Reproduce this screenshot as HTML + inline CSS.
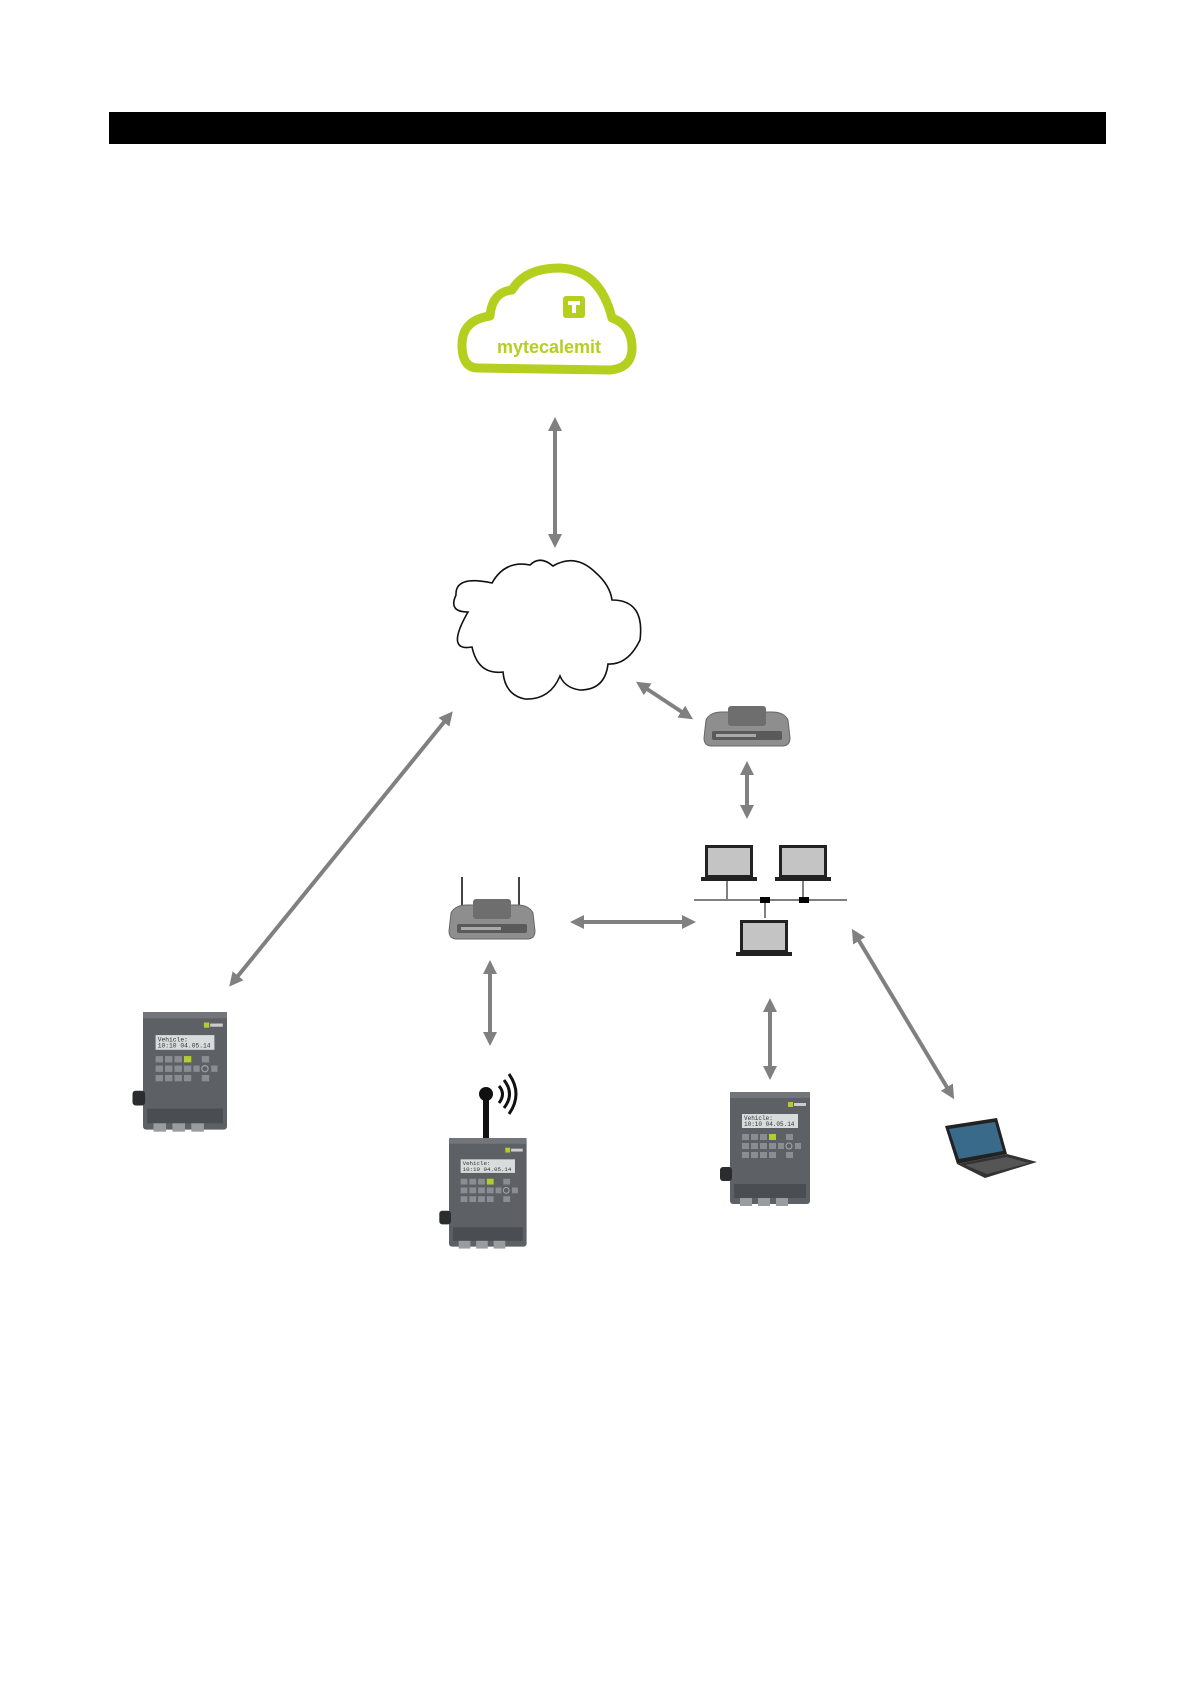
<!DOCTYPE html>
<html><head><meta charset="utf-8"><style>
html,body{margin:0;padding:0;background:#fff}
svg{display:block}
</style></head><body>
<svg width="1190" height="1684" viewBox="0 0 1190 1684" xmlns="http://www.w3.org/2000/svg">
<defs>
<marker id="ah" markerWidth="3.5" markerHeight="3.5" refX="2" refY="1.75" orient="auto-start-reverse" markerUnits="strokeWidth">
<path d="M0,0 L3.5,1.75 L0,3.5 Z" fill="#808080"/></marker>
<g id="dev">
<rect x="0" y="0" width="80" height="112" rx="3" fill="#5d6166"/>
<rect x="0" y="0" width="80" height="6" fill="#72767b"/>
<rect x="58" y="10" width="5" height="5" fill="#b5cc2e"/>
<rect x="64" y="11" width="12" height="3" fill="#ccc"/>
<rect x="12" y="22" width="56" height="14" fill="#d8dcdc"/>
<text x="14" y="28" font-family="Liberation Mono, monospace" font-size="6" fill="#333">Vehicle:</text>
<text x="14" y="34" font-family="Liberation Mono, monospace" font-size="6" fill="#333">10:10   04.05.14</text>
<g fill="#8a8e93">
<rect x="12" y="42" width="7" height="6"/><rect x="21" y="42" width="7" height="6"/><rect x="30" y="42" width="7" height="6"/><rect x="39" y="42" width="7" height="6" fill="#b5cc2e"/><rect x="56" y="42" width="7" height="6"/>
<rect x="12" y="51" width="7" height="6"/><rect x="21" y="51" width="7" height="6"/><rect x="30" y="51" width="7" height="6"/><rect x="39" y="51" width="7" height="6"/><rect x="48" y="51" width="6" height="6"/><rect x="65" y="51" width="6" height="6"/>
<rect x="12" y="60" width="7" height="6"/><rect x="21" y="60" width="7" height="6"/><rect x="30" y="60" width="7" height="6"/><rect x="39" y="60" width="7" height="6"/><rect x="56" y="60" width="7" height="6"/>
</g>
<circle cx="59" cy="54" r="3" fill="none" stroke="#aaa" stroke-width="1"/>
<rect x="4" y="92" width="72" height="14" fill="#4a4d52"/>
<rect x="10" y="106" width="12" height="8" fill="#9a9da0"/><rect x="28" y="106" width="12" height="8" fill="#9a9da0"/><rect x="46" y="106" width="12" height="8" fill="#9a9da0"/>
<rect x="-10" y="75" width="12" height="14" rx="3" fill="#2a2c2e"/>
</g>
<g id="laptop">
<rect x="4" y="0" width="48" height="32" fill="#222"/>
<rect x="7" y="3" width="42" height="27" fill="#c4c4c4"/>
<rect x="0" y="32" width="56" height="4" fill="#222"/>
</g>
<g id="modem">
<path d="M4,16 Q8,8 20,8 L70,8 Q82,8 86,16 L88,34 Q88,42 80,42 L10,42 Q2,42 2,34 Z" fill="#8e8e8e" stroke="#666"/>
<rect x="26" y="2" width="38" height="20" rx="3" fill="#6e6e6e"/>
<rect x="10" y="27" width="70" height="9" rx="2" fill="#5a5a5a"/>
<rect x="14" y="30" width="40" height="3" fill="#aaa"/>
</g>
</defs>

<rect x="109" y="112" width="997" height="32" fill="#000"/>

<path d="M478,368 Q462,368 462,345 Q462,320 490,316 Q492,292 512,290 Q525,268 560,268 Q600,270 612,318 Q632,325 632,348 Q632,368 610,370 Z" fill="none" stroke="#b5cf1f" stroke-width="9" stroke-linejoin="round"/>
<rect x="563" y="296" width="22" height="22" rx="3" fill="#b5cf1f"/>
<rect x="568" y="301" width="12" height="4" fill="#fff"/><rect x="572" y="301" width="4" height="12" fill="#fff"/>
<text x="549" y="353" text-anchor="middle" font-family="Liberation Sans, sans-serif" font-weight="bold" font-size="18" fill="#b5cf1f">mytecalemit</text>

<g stroke="#808080" stroke-width="4" fill="none" marker-start="url(#ah)" marker-end="url(#ah)">
<line x1="555" y1="423" x2="555" y2="542"/>
<line x1="641" y1="685" x2="688" y2="716"/>
<line x1="747" y1="767" x2="747" y2="813"/>
<line x1="576" y1="922" x2="690" y2="922"/>
<line x1="490" y1="966" x2="490" y2="1040"/>
<line x1="449" y1="716" x2="233" y2="982"/>
<line x1="770" y1="1004" x2="770" y2="1074"/>
<line x1="855" y1="934" x2="951" y2="1094"/>
</g>

<path d="M472,647 Q445,652 468,612 Q448,612 456,595 Q455,575 492,583 Q505,560 530,565 Q540,555 553,566 Q575,553 595,572 Q610,585 612,600 Q645,600 640,640 Q628,665 608,664 Q605,690 580,690 Q565,688 560,676 Q550,700 525,699 Q505,695 503,672 Q478,675 472,647 Z" fill="#fff" stroke="#111" stroke-width="1.6"/>

<use href="#modem" x="702" y="704"/>
<line x1="462" y1="877" x2="462" y2="905" stroke="#444" stroke-width="2"/>
<line x1="519" y1="877" x2="519" y2="905" stroke="#444" stroke-width="2"/>
<use href="#modem" x="447" y="897"/>

<use href="#laptop" x="701" y="845"/>
<use href="#laptop" x="775" y="845"/>
<line x1="694" y1="900" x2="847" y2="900" stroke="#808080" stroke-width="2"/>
<line x1="727" y1="881" x2="727" y2="900" stroke="#808080" stroke-width="2"/>
<line x1="803" y1="881" x2="803" y2="900" stroke="#808080" stroke-width="2"/>
<line x1="765" y1="900" x2="765" y2="918" stroke="#808080" stroke-width="2"/>
<rect x="760" y="897" width="10" height="6" fill="#000"/>
<rect x="799" y="897" width="10" height="6" fill="#000"/>
<use href="#laptop" x="736" y="920"/>

<use href="#dev" transform="translate(143,1012) scale(1.05)"/>
<line x1="486" y1="1095" x2="486" y2="1140" stroke="#111" stroke-width="6"/>
<circle cx="486" cy="1094" r="7" fill="#111"/>
<path d="M499,1086 Q506,1094 499,1103 M504,1080 Q515,1094 504,1108 M509,1074 Q523,1094 509,1114" stroke="#111" stroke-width="3" fill="none"/>
<use href="#dev" transform="translate(449,1138) scale(0.97)"/>
<use href="#dev" transform="translate(730,1092) scale(1.0)"/>

<g transform="translate(945,1118)">
<path d="M0,8 L52,0 L62,36 L12,46 Z" fill="#222"/>
<path d="M4,11 L50,4 L58,33 L14,41 Z" fill="#3a6a8a"/>
<path d="M12,46 L62,36 L92,44 L40,60 Z" fill="#333"/>
<path d="M20,47 L62,39 L84,45 L42,56 Z" fill="#555"/>
</g>
</svg>
</body></html>
